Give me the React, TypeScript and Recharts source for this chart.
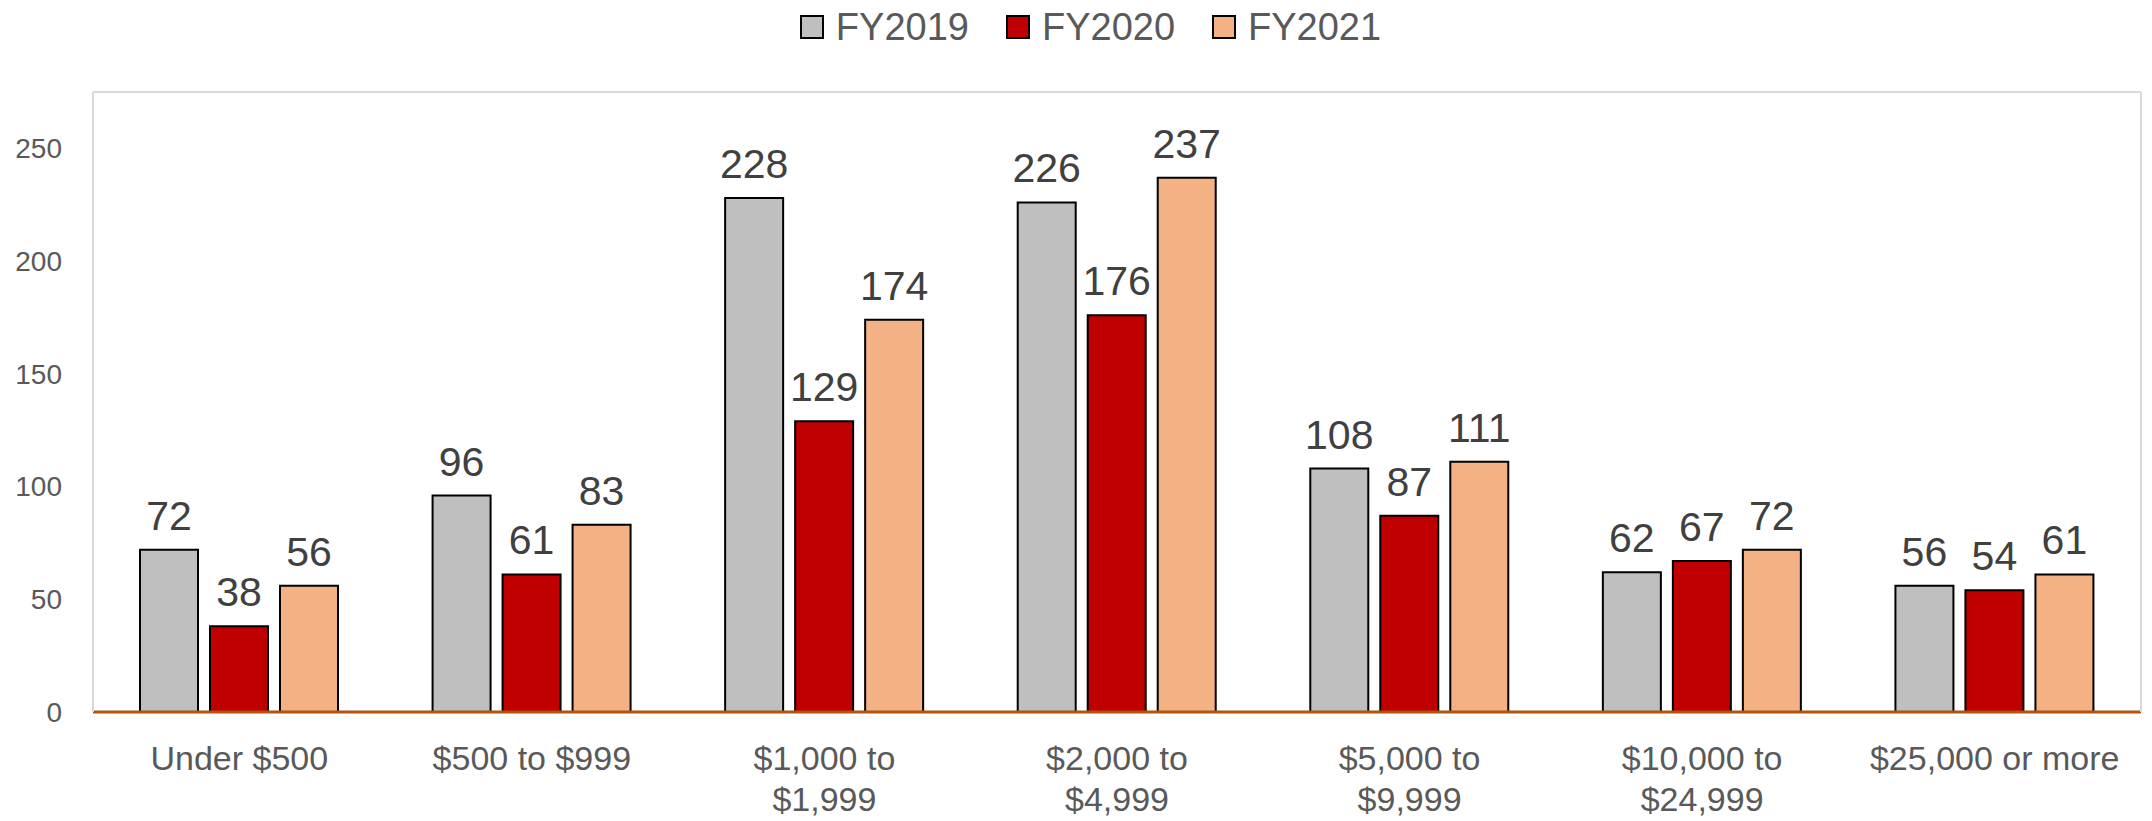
import React from 'react';
import { BarChart, Bar, XAxis, YAxis, Legend, LabelList } from 'recharts';

const categories = [
  'Under $500',
  '$500 to $999',
  '$1,000 to $1,999',
  '$2,000 to $4,999',
  '$5,000 to $9,999',
  '$10,000 to $24,999',
  '$25,000 or more',
];
const fy2019 = [72, 96, 228, 226, 108, 62, 56];
const fy2020 = [38, 61, 129, 176, 87, 67, 54];
const fy2021 = [56, 83, 174, 237, 111, 72, 61];
const yTicks = [0, 50, 100, 150, 200, 250];

const data = categories.map((name, i) => ({
  name,
  FY2019: fy2019[i],
  FY2020: fy2020[i],
  FY2021: fy2021[i],
}));

const FONT = '"Liberation Sans", Arial, sans-serif';
const TEXT = '#595959';

// long labels break after "to", like Excel does it
const wrapLabel = (label: string) => {
  if (label.length > 12 && label.includes(' to ')) {
    const idx = label.indexOf(' to ') + 3;
    return [label.slice(0, idx), label.slice(idx + 1)];
  }
  return [label];
};

const XTick = (props: any) => {
  const { x, y, payload } = props;
  const lines = wrapLabel(payload.value);
  return (
    <text x={x} y={y} textAnchor="middle" fill={TEXT} fontSize={34} fontFamily={FONT}>
      {lines.map((l, i) => (
        <tspan key={i} x={x} dy={i === 0 ? 58 : 41}>
          {l}
        </tspan>
      ))}
    </text>
  );
};

const LegendContent = (props: any) => {
  const { payload } = props;
  return (
    <div style={{ display: 'flex', justifyContent: 'center', paddingLeft: 66, fontFamily: FONT, height: 54 }}>
      {payload.map((p: any) => (
        <div key={p.value} style={{ display: 'flex', alignItems: 'center', marginRight: 37 }}>
          <div
            style={{
              width: 20,
              height: 20,
              background: p.color,
              border: '2px solid #000',
              marginRight: 12,
            }}
          />
          <span style={{ fontSize: 38, color: TEXT, lineHeight: '54px' }}>{p.value}</span>
        </div>
      ))}
    </div>
  );
};

const App: React.FC = () => {
  return (
    <div style={{ position: 'absolute', left: 0, top: 0, background: '#fff' }}>
      <BarChart
        width={2152}
        height={821}
        data={data}
        margin={{ top: 37, right: 10, bottom: 0, left: 0 }}
        barCategoryGap={47}
        barGap={12}
      >
        <XAxis
          xAxisId="top"
          orientation="top"
          dataKey="name"
          height={1}
          tick={false}
          tickLine={false}
          axisLine={{ stroke: '#D9D9D9', strokeWidth: 2 }}
        />
        <XAxis
          xAxisId="bottom"
          dataKey="name"
          height={109}
          tickLine={false}
          tickSize={0}
          tickMargin={0}
          interval={0}
          tick={<XTick />}
          axisLine={{ stroke: '#B05410', strokeWidth: 3 }}
        />
        <YAxis
          yAxisId="left"
          width={93}
          domain={[0, 275]}
          ticks={yTicks}
          tickLine={false}
          tickSize={0}
          tickMargin={31}
          axisLine={{ stroke: '#D9D9D9', strokeWidth: 2 }}
          tick={{ fill: TEXT, fontSize: 28, fontFamily: FONT }}
        />
        <YAxis
          yAxisId="right"
          orientation="right"
          width={1}
          domain={[0, 275]}
          tick={false}
          tickLine={false}
          axisLine={{ stroke: '#D9D9D9', strokeWidth: 2 }}
        />
        <Legend verticalAlign="top" wrapperStyle={{ top: 0, left: 0, width: 2152 }} content={<LegendContent />} />
        <Bar dataKey="FY2019" xAxisId="bottom" yAxisId="left" fill="#BFBFBF" stroke="#000" strokeWidth={2} isAnimationActive={false}>
          <LabelList dataKey="FY2019" position="top" offset={20} fill="#404040" fontSize={41} fontFamily={FONT} />
        </Bar>
        <Bar dataKey="FY2020" xAxisId="bottom" yAxisId="left" fill="#C00000" stroke="#000" strokeWidth={2} isAnimationActive={false}>
          <LabelList dataKey="FY2020" position="top" offset={20} fill="#404040" fontSize={41} fontFamily={FONT} />
        </Bar>
        <Bar dataKey="FY2021" xAxisId="bottom" yAxisId="left" fill="#F4B183" stroke="#000" strokeWidth={2} isAnimationActive={false}>
          <LabelList dataKey="FY2021" position="top" offset={20} fill="#404040" fontSize={41} fontFamily={FONT} />
        </Bar>
      </BarChart>
    </div>
  );
};

export default App;
